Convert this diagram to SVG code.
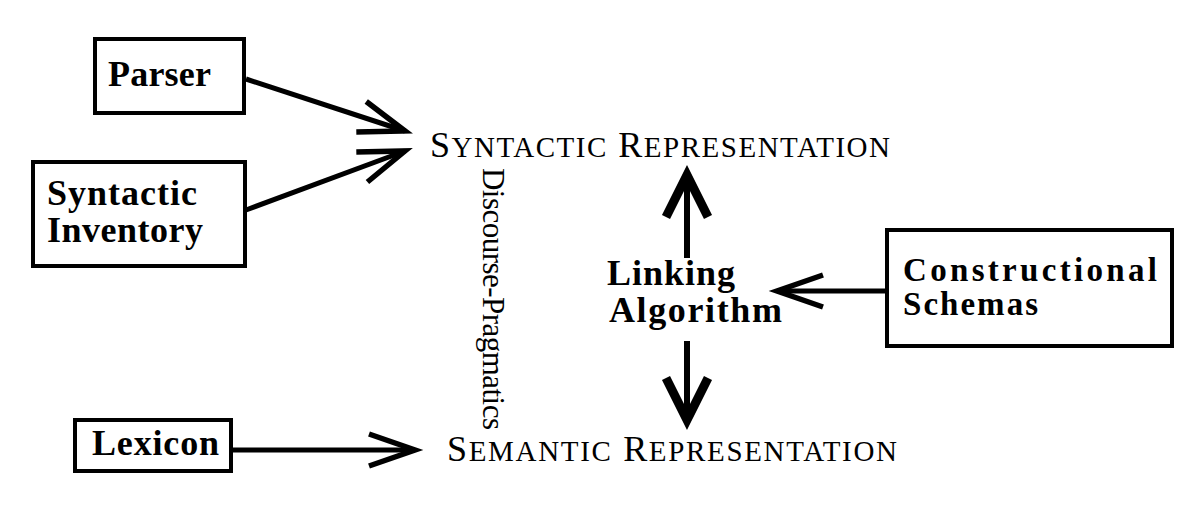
<svg xmlns="http://www.w3.org/2000/svg" width="1201" height="525" viewBox="0 0 1201 525">
  <style>
    .box { fill: #ffffff; stroke: #000000; stroke-width: 4; }
    .lbl { font-family: "Liberation Serif", "Times New Roman", serif; font-weight: bold; font-size: 36px; fill: #000000; }
    .lbl2 { font-size: 33px; }
    .rep { font-family: "Liberation Serif", "Times New Roman", serif; font-size: 36px; fill: #000000; }
    .sc { font-size: 29px; }
    .vert { font-family: "Liberation Serif", "Times New Roman", serif; font-size: 31px; fill: #000000; }
    .conn { stroke: #000000; stroke-width: 5; fill: none; }
    .thick { stroke: #000000; stroke-width: 6; fill: none; }
  </style>
  <defs>
    <marker id="chev" markerUnits="userSpaceOnUse" viewBox="-60 -30 70 60" refX="0" refY="0" markerWidth="70" markerHeight="60" orient="auto" overflow="visible">
      <path d="M-46,-16 L0,0 L-46,16" fill="none" stroke="#000000" stroke-width="5.5" stroke-linejoin="miter" stroke-miterlimit="6"/>
    </marker>
    <marker id="bold" markerUnits="userSpaceOnUse" viewBox="-60 -30 70 60" refX="0" refY="0" markerWidth="70" markerHeight="60" orient="auto" overflow="visible">
      <path d="M-42,-21 L0,0 L-42,21" fill="none" stroke="#000000" stroke-width="9" stroke-linejoin="miter" stroke-miterlimit="6"/>
    </marker>
  </defs>
  <rect x="0" y="0" width="1201" height="525" fill="#ffffff"/>

  <g id="parser">
    <rect class="box" x="95" y="39" width="149" height="74"/>
    <text class="lbl" x="108" y="86" textLength="103">Parser</text>
  </g>
  <g id="syntactic-inventory">
    <rect class="box" x="33" y="162" width="212" height="104"/>
    <text class="lbl"><tspan x="47" y="205" textLength="150">Syntactic</tspan><tspan x="47" y="242" textLength="156">Inventory</tspan></text>
  </g>
  <g id="lexicon">
    <rect class="box" x="75" y="420" width="156" height="51"/>
    <text class="lbl" x="92" y="455" textLength="127">Lexicon</text>
  </g>
  <g id="constructional-schemas">
    <rect class="box" x="887" y="230" width="285" height="116"/>
    <text class="lbl lbl2"><tspan x="903" y="281" textLength="254">Constructional</tspan><tspan x="903" y="315" textLength="135">Schemas</tspan></text>
  </g>
  <g id="linking-algorithm">
    <text class="lbl"><tspan x="607" y="285" textLength="128">Linking</tspan><tspan x="609" y="322" textLength="173">Algorithm</tspan></text>
  </g>
  <g id="syntactic-representation">
    <text class="rep" x="430" y="157" textLength="460">S<tspan class="sc">YNTACTIC</tspan> R<tspan class="sc">EPRESENTATION</tspan></text>
  </g>
  <g id="semantic-representation">
    <text class="rep" x="447" y="461" textLength="450">S<tspan class="sc">EMANTIC</tspan> R<tspan class="sc">EPRESENTATION</tspan></text>
  </g>
  <g id="discourse-pragmatics">
    <text class="vert" transform="translate(483,168) rotate(90)" x="0" y="0" textLength="262">Discourse-Pragmatics</text>
  </g>

  <g id="connectors">
    <line class="conn" x1="246" y1="79" x2="405" y2="131" marker-end="url(#chev)"/>
    <line class="conn" x1="246" y1="210" x2="405" y2="151" marker-end="url(#chev)"/>
    <line class="conn" x1="233" y1="450" x2="415" y2="450" marker-end="url(#chev)"/>
    <line class="conn" x1="887" y1="291" x2="777" y2="291" marker-end="url(#chev)"/>
    <line class="thick" x1="687" y1="258" x2="687" y2="175" marker-end="url(#bold)"/>
    <line class="thick" x1="687" y1="341" x2="687" y2="420" marker-end="url(#bold)"/>
  </g>
</svg>
